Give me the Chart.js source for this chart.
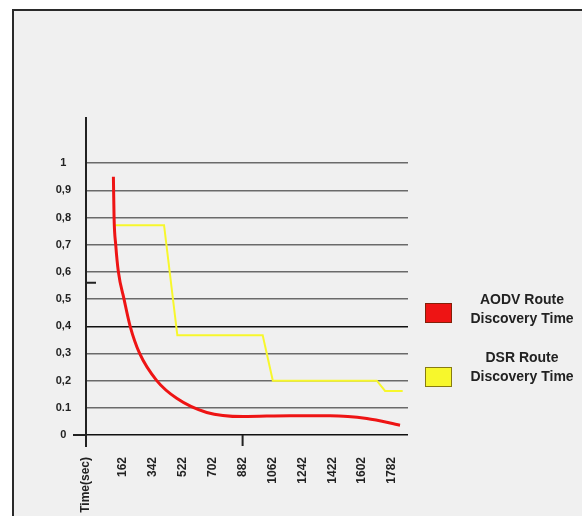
<!DOCTYPE html>
<html>
<head>
<meta charset="utf-8">
<script src="https://cdn.jsdelivr.net/npm/chart.js@4.4.1/dist/chart.umd.min.js"></script>
<style>
    html, body { margin: 0; padding: 0; background: #ffffff; overflow: hidden; }
    .marco {
        position: absolute; left: 12px; top: 9px; width: 600px; height: 540px;
        border: 2px solid #2a2a2a; background: #f0f0f0;
    }
    #grafico { position: absolute; left: 0; top: 0; }
</style>
</head>
<body>
<div class="marco"></div>
<canvas id="grafico" width="582" height="516"></canvas>
<script>
// datos
const nombresSeries = [["AODV Route", "Discovery Time"], ["DSR Route", "Discovery Time"]];
const coloresSeries = ["#ee1414", "#f7f72c"];

const aodvTiempo = [104, 108, 118, 134, 168, 205, 262, 365, 485, 666, 886, 1168, 1409, 1630, 1830];
const aodvValor  = [0.95, 0.8, 0.7, 0.6, 0.5, 0.4, 0.3, 0.2, 0.135, 0.083, 0.068, 0.071, 0.071, 0.061, 0.036];

const dsrTiempo = [104, 409, 489, 1003, 1064, 1690, 1740, 1846];
const dsrValor  = [0.772, 0.772, 0.367, 0.367, 0.2, 0.2, 0.162, 0.162];

const ticksX = [162, 342, 522, 702, 882, 1062, 1242, 1422, 1602, 1782];
const tituloX = "Time(sec)";
const ticksY = [0, 0.1, 0.2, 0.3, 0.4, 0.5, 0.6, 0.7, 0.8, 0.9, 1];
const etiquetasY = ["0", "0.1", "0,2", "0,3", "0,4", "0,5", "0,6", "0,7", "0,8", "0,9", "1"];

const X_MIN = -61, X_MAX = 1878;
const FUENTE = "'Liberation Sans', Arial, sans-serif";

// ejes extra, marca en 882 y leyenda de dos lineas
const extrasPlugin = {
    id: "extras",
    afterDraw(chart) {
        const { ctx, chartArea, scales } = chart;
        ctx.save();
        ctx.strokeStyle = "#222";
        ctx.lineWidth = 2;
        ctx.beginPath();
        ctx.moveTo(chartArea.left, chartArea.top);
        ctx.lineTo(chartArea.left, chartArea.bottom + 12);
        ctx.moveTo(chartArea.left - 13, chartArea.bottom);
        ctx.lineTo(chartArea.left, chartArea.bottom);
        const x882 = scales.x.getPixelForValue(882);
        ctx.moveTo(x882, chartArea.bottom);
        ctx.lineTo(x882, chartArea.bottom + 11);
        const yMarca = scales.y.getPixelForValue(0.56);
        ctx.moveTo(chartArea.left, yMarca);
        ctx.lineTo(chartArea.left + 10, yMarca);
        ctx.stroke();

        // leyenda
        const textoY = [300, 358];
        const cajaY = [303, 367];
        ctx.font = "bold 14px " + FUENTE;
        ctx.textAlign = "center";
        ctx.textBaseline = "middle";
        chart.data.datasets.forEach((ds, i) => {
            ctx.fillStyle = ds.borderColor;
            ctx.fillRect(425, cajaY[i], 27, 20);
            ctx.strokeStyle = "rgba(60,40,0,0.6)";
            ctx.lineWidth = 1;
            ctx.strokeRect(425.5, cajaY[i] + 0.5, 26, 19);
            ctx.fillStyle = "#222";
            ds.label.forEach((linea, j) => ctx.fillText(linea, 522, textoY[i] + j * 19.5));
        });
        ctx.restore();
    }
};

const ctx = document.getElementById("grafico").getContext("2d");
new Chart(ctx, {
    type: "line",
    data: {
        datasets: [
            {
                label: nombresSeries[0],
                data: aodvTiempo.map((t, i) => ({ x: t, y: aodvValor[i] })),
                borderColor: coloresSeries[0],
                borderWidth: 3,
                pointRadius: 0,
                cubicInterpolationMode: "monotone"
            },
            {
                label: nombresSeries[1],
                data: dsrTiempo.map((t, i) => ({ x: t, y: dsrValor[i] })),
                borderColor: coloresSeries[1],
                borderWidth: 2,
                pointRadius: 0,
                tension: 0
            }
        ]
    },
    options: {
        responsive: false,
        animation: false,
        devicePixelRatio: 1,
        layout: { padding: { top: 117, right: 174, left: 0, bottom: 0 } },
        plugins: {
            legend: { display: false },
            tooltip: { enabled: false }
        },
        scales: {
            x: {
                type: "linear",
                min: X_MIN,
                max: X_MAX,
                afterBuildTicks: s => { s.ticks = [X_MIN, ...ticksX].map(v => ({ value: v })); },
                afterFit: s => { s.height = 81; },
                grid: { display: false, drawTicks: false },
                border: { display: false },
                ticks: {
                    autoSkip: false,
                    minRotation: 90,
                    maxRotation: 90,
                    padding: 22,
                    color: "#222",
                    font: { family: FUENTE, size: 12, weight: "bold" },
                    callback: v => v === X_MIN ? tituloX : String(v)
                }
            },
            y: {
                type: "linear",
                min: 0,
                max: 1.17,
                afterBuildTicks: s => { s.ticks = ticksY.map(v => ({ value: v })); },
                afterFit: s => { s.width = 86; },
                grid: {
                    drawTicks: false,
                    lineWidth: 1.5,
                    color: c => (c.tick && (c.tick.value === 0 || c.tick.value === 0.4)) ? "#111" : "#6a6a6a"
                },
                border: { display: false },
                ticks: {
                    crossAlign: "center",
                    padding: 15,
                    color: "#222",
                    font: { family: FUENTE, size: 11, weight: "bold" },
                    callback: (v, i) => etiquetasY[i]
                }
            }
        }
    },
    plugins: [extrasPlugin]
});
</script>
</body>
</html>
